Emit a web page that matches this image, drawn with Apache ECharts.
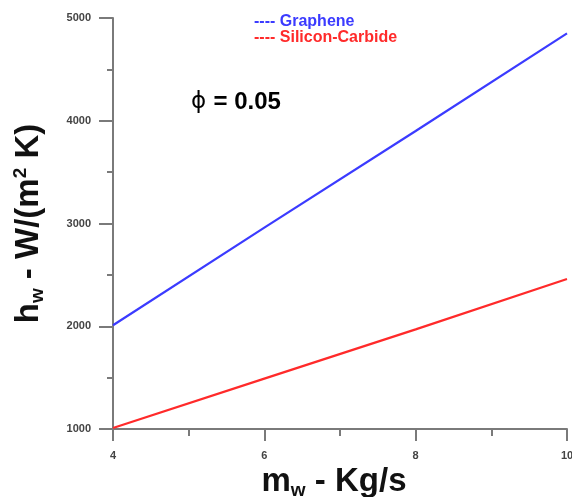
<!DOCTYPE html>
<html>
<head>
<meta charset="utf-8">
<script src="https://cdn.jsdelivr.net/npm/echarts@6/dist/echarts.min.js"></script>
<style>
  html, body { margin: 0; padding: 0; background: #fff; }
  #chart { width: 572px; height: 497px; }
</style>
</head>
<body>
<div id="chart"></div>
<script>
// Mass flow rate (kg/s) sample positions
var massFlow = [4, 6, 8, 10];
// Heat transfer coefficient, W/(m² K)
var graphene = [2010, 2960, 3900, 4850];
var siliconCarbide = [1010, 1490, 1970, 2460];
var xTicks = [4, 6, 8, 10];
var yTicks = [1000, 2000, 3000, 4000, 5000];

var seriesNames = ['Graphene', 'Silicon-Carbide'];
var seriesColors = ['#3b3bff', '#ff2a2a'];

function pairs(xs, ys) {
  return xs.map(function (x, i) { return [x, ys[i]]; });
}

var axisGray = '#7a7a7a';
var font = 'Liberation Sans, Arial, sans-serif';

// rich-text styles shared by both axis titles
var titleRich = {
  b: { fontSize: 33, fontWeight: 'bold', color: '#111', fontFamily: font, lineHeight: 36 },
  s: { fontSize: 19, fontWeight: 'bold', color: '#111', fontFamily: font, verticalAlign: 'bottom', lineHeight: 19 },
  p: { fontSize: 19, fontWeight: 'bold', color: '#111', fontFamily: font, verticalAlign: 'top', lineHeight: 19 }
};

var chart = echarts.init(document.getElementById('chart'), null, { renderer: 'canvas' });

chart.setOption({
  animation: false,
  backgroundColor: '#ffffff',
  grid: { left: 113, right: 5, top: 18, bottom: 68, outerBoundsMode: 'none', containLabel: false },
  xAxis: {
    type: 'value',
    min: xTicks[0],
    max: xTicks[xTicks.length - 1],
    interval: 2,
    axisLine: { show: true, onZero: false, lineStyle: { color: axisGray, width: 2 } },
    axisTick: { show: true, length: 12, lineStyle: { color: axisGray, width: 2 } },
    minorTick: { show: true, splitNumber: 2, length: 7, lineStyle: { color: axisGray, width: 2 } },
    splitLine: { show: false },
    axisLabel: {
      margin: 21, fontSize: 11, fontWeight: 'bold', color: '#444', fontFamily: font,
      formatter: function (v) { return String(v); }
    },
    name: '{b|m}{s|w}{b| - Kg/s}',
    nameLocation: 'middle',
    nameGap: 34,
    nameTextStyle: { rich: titleRich, padding: [0, 12, 0, 0] }
  },
  yAxis: {
    type: 'value',
    min: yTicks[0],
    max: yTicks[yTicks.length - 1],
    interval: 1000,
    axisLine: { show: true, onZero: false, lineStyle: { color: axisGray, width: 2 } },
    axisTick: { show: true, length: 14, lineStyle: { color: axisGray, width: 2 } },
    minorTick: { show: true, splitNumber: 2, length: 6, lineStyle: { color: axisGray, width: 2 } },
    splitLine: { show: false },
    axisLabel: {
      margin: 22, fontSize: 11, fontWeight: 'bold', color: '#444', fontFamily: font,
      formatter: function (v) { return String(v); }
    },
    name: '{b|h}{s|w}{b| - W/(m}{p|2}{b| K)}',
    nameLocation: 'middle',
    nameRotate: 90,
    nameGap: 66,
    nameTextStyle: { rich: titleRich }
  },
  series: [
    {
      name: seriesNames[0],
      type: 'line',
      data: pairs(massFlow, graphene),
      showSymbol: false,
      lineStyle: { color: seriesColors[0], width: 2.2 },
      itemStyle: { color: seriesColors[0] }
    },
    {
      name: seriesNames[1],
      type: 'line',
      data: pairs(massFlow, siliconCarbide),
      showSymbol: false,
      lineStyle: { color: seriesColors[1], width: 2.2 },
      itemStyle: { color: seriesColors[1] }
    }
  ],
  graphic: [
    {
      type: 'text', left: 254, top: 14,
      style: { text: '---- ' + seriesNames[0], fill: seriesColors[0], font: 'bold 16px ' + font }
    },
    {
      type: 'text', left: 254, top: 30,
      style: { text: '---- ' + seriesNames[1], fill: seriesColors[1], font: 'bold 16px ' + font }
    },
    {
      type: 'text', left: 191, top: 90,
      style: {
        text: '{phi|ϕ} {v|= 0.05}',
        rich: {
          phi: { fontSize: 23, color: '#444', fontFamily: 'DejaVu Sans, sans-serif' },
          v: { fontSize: 24, fontWeight: 'bold', color: '#111', fontFamily: font, padding: [0, 0, 0, 4] }
        }
      }
    }
  ]
});
</script>
</body>
</html>
